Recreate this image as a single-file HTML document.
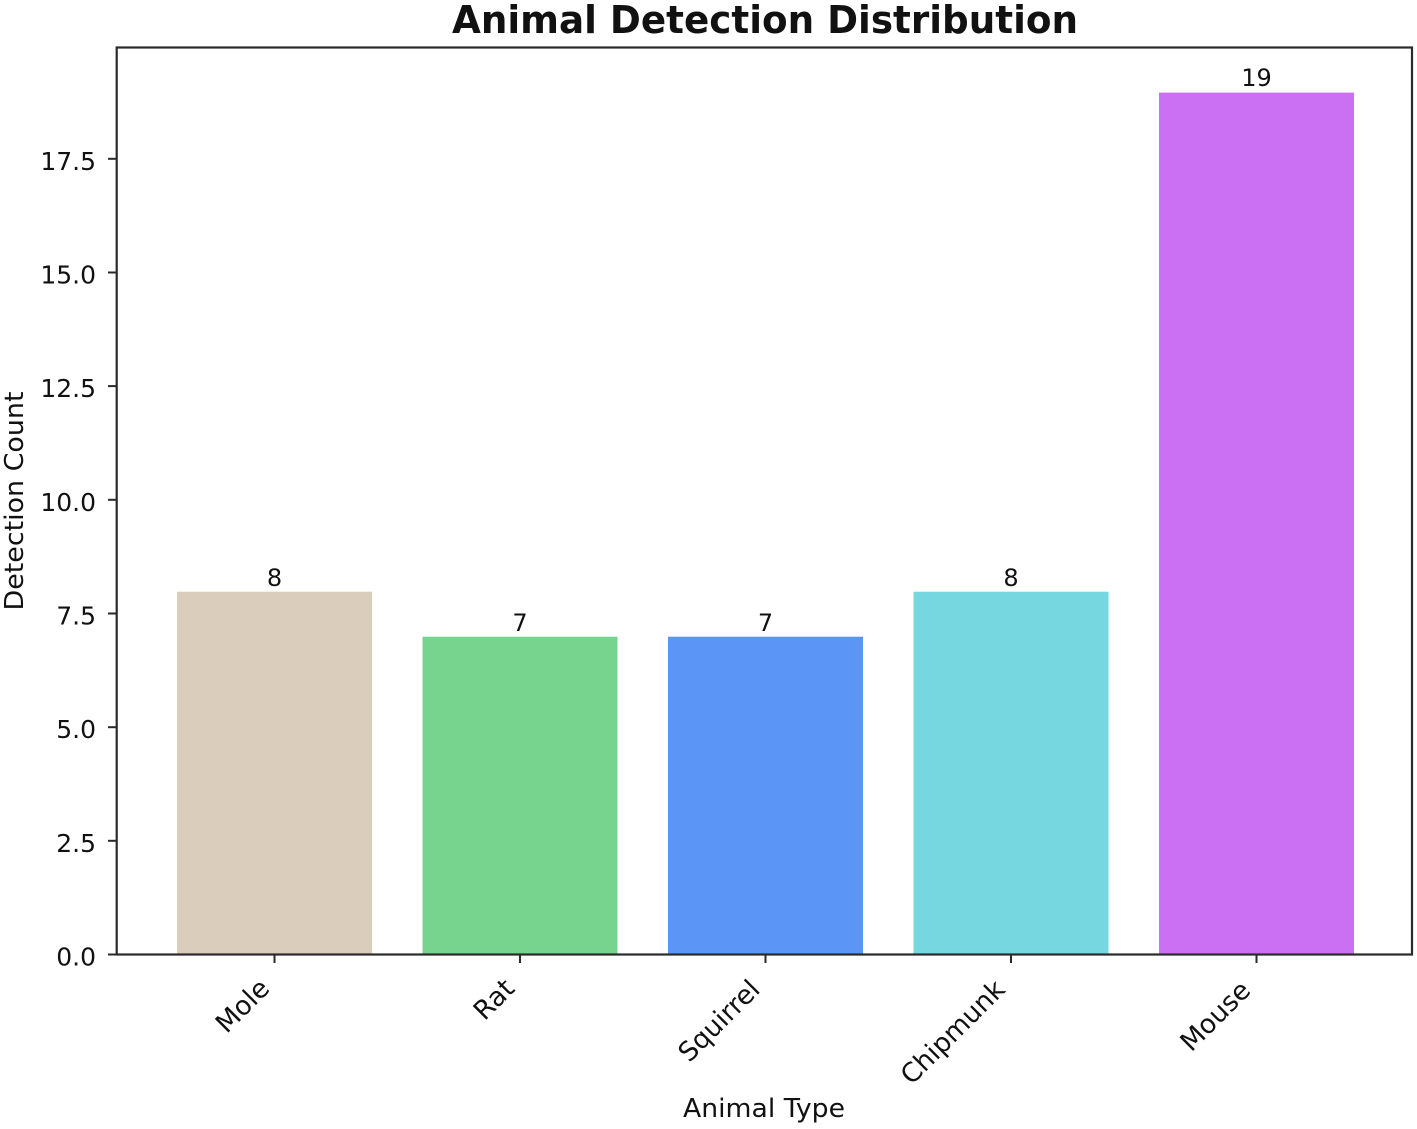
<!DOCTYPE html>
<html>
<head>
<meta charset="utf-8">
<style>
  html, body { margin: 0; padding: 0; background: #ffffff; }
  svg { display: block; }
  text { font-family: "DejaVu Sans", "Liberation Sans", sans-serif; fill: #111; }
</style>
</head>
<body>
<svg width="1417" height="1129" viewBox="0 0 1417 1129" xmlns="http://www.w3.org/2000/svg">
  <rect x="0" y="0" width="1417" height="1129" fill="#ffffff"/>

  <!-- Title -->
  <text x="765" y="33" text-anchor="middle" font-size="38" font-weight="bold" textLength="626" lengthAdjust="spacingAndGlyphs">Animal Detection Distribution</text>

  <!-- Bars -->
  <rect x="177" y="591.7" width="195" height="362.8" fill="#dbcdbc"/>
  <rect x="422.5" y="636.7" width="195" height="317.8" fill="#77d48f"/>
  <rect x="668" y="636.7" width="195" height="317.8" fill="#5b95f5"/>
  <rect x="913.5" y="591.7" width="195" height="362.8" fill="#77d7e0"/>
  <rect x="1159" y="92.6" width="195" height="861.9" fill="#cb70f2"/>

  <!-- Value labels -->
  <text x="274.5" y="586" text-anchor="middle" font-size="24">8</text>
  <text x="520" y="631" text-anchor="middle" font-size="24">7</text>
  <text x="765.5" y="631" text-anchor="middle" font-size="24">7</text>
  <text x="1011" y="586" text-anchor="middle" font-size="24">8</text>
  <text x="1256.5" y="86" text-anchor="middle" font-size="24">19</text>

  <!-- Axes frame -->
  <rect x="116.7" y="47.5" width="1295.3" height="907" fill="none" stroke="#2a2a2a" stroke-width="2.2"/>

  <!-- Y ticks -->
  <g stroke="#2a2a2a" stroke-width="2">
    <line x1="108" y1="954.5" x2="116.7" y2="954.5"/>
    <line x1="108" y1="840.8" x2="116.7" y2="840.8"/>
    <line x1="108" y1="727.2" x2="116.7" y2="727.2"/>
    <line x1="108" y1="613.5" x2="116.7" y2="613.5"/>
    <line x1="108" y1="499.8" x2="116.7" y2="499.8"/>
    <line x1="108" y1="386.1" x2="116.7" y2="386.1"/>
    <line x1="108" y1="272.5" x2="116.7" y2="272.5"/>
    <line x1="108" y1="158.8" x2="116.7" y2="158.8"/>
  </g>
  <g font-size="25" text-anchor="end">
    <text x="96" y="965.5">0.0</text>
    <text x="96" y="851.8">2.5</text>
    <text x="96" y="738.2">5.0</text>
    <text x="96" y="624.5">7.5</text>
    <text x="96" y="510.8">10.0</text>
    <text x="96" y="397.1">12.5</text>
    <text x="96" y="283.5">15.0</text>
    <text x="96" y="169.8">17.5</text>
  </g>

  <!-- X ticks -->
  <g stroke="#2a2a2a" stroke-width="2">
    <line x1="274.5" y1="954.5" x2="274.5" y2="963"/>
    <line x1="520" y1="954.5" x2="520" y2="963"/>
    <line x1="765.5" y1="954.5" x2="765.5" y2="963"/>
    <line x1="1011" y1="954.5" x2="1011" y2="963"/>
    <line x1="1256.5" y1="954.5" x2="1256.5" y2="963"/>
  </g>
  <g font-size="26.5" text-anchor="end">
    <text transform="translate(271,990) rotate(-45)">Mole</text>
    <text transform="translate(516,990) rotate(-45)">Rat</text>
    <text transform="translate(761.5,991) rotate(-45)">Squirrel</text>
    <text transform="translate(1006.5,991) rotate(-45)">Chipmunk</text>
    <text transform="translate(1252,992) rotate(-45)">Mouse</text>
  </g>

  <!-- Axis labels -->
  <text x="764" y="1117" text-anchor="middle" font-size="26" textLength="162" lengthAdjust="spacingAndGlyphs">Animal Type</text>
  <text transform="translate(23,501) rotate(-90)" text-anchor="middle" font-size="26" textLength="219" lengthAdjust="spacingAndGlyphs">Detection Count</text>
</svg>
</body>
</html>
